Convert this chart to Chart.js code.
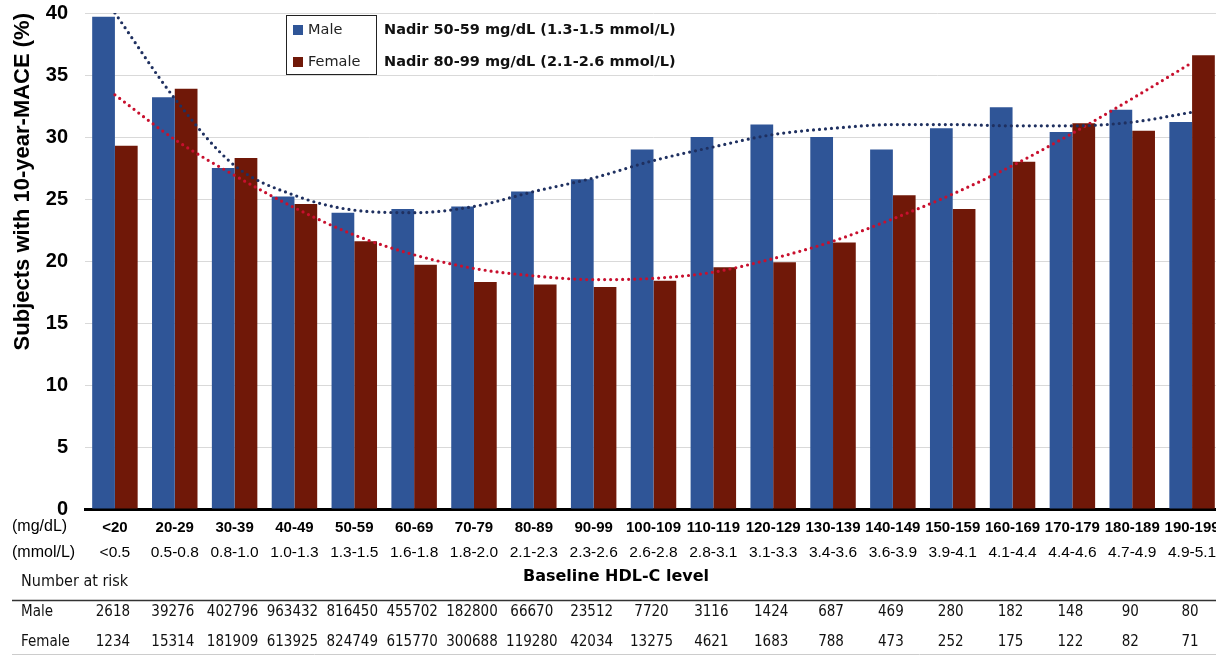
<!DOCTYPE html>
<html>
<head>
<meta charset="utf-8">
<script src="https://cdn.jsdelivr.net/npm/chart.js@4.4.1/dist/chart.umd.min.js"></script>
<style>
  html, body { margin: 0; padding: 0; background: #fff; overflow: hidden; }
  #wrap { width: 1222px; height: 655px; position: relative; }
</style>
</head>
<body>
<div id="wrap"><canvas id="chart"></canvas></div>
<script>
const mgLabels = ['<20', '20-29', '30-39', '40-49', '50-59', '60-69', '70-79', '80-89', '90-99', '100-109',
  '110-119', '120-129', '130-139', '140-149', '150-159', '160-169', '170-179', '180-189', '190-199'];
const mmolLabels = ['<0.5', '0.5-0.8', '0.8-1.0', '1.0-1.3', '1.3-1.5', '1.6-1.8', '1.8-2.0', '2.1-2.3', '2.3-2.6', '2.6-2.8',
  '2.8-3.1', '3.1-3.3', '3.4-3.6', '3.6-3.9', '3.9-4.1', '4.1-4.4', '4.4-4.6', '4.7-4.9', '4.9-5.1'];

const maleValues = [39.7, 33.2, 27.5, 25.2, 23.9, 24.2, 24.4, 25.6, 26.6, 29.0, 30.0, 31.0, 30.0, 29.0, 30.7, 32.4, 30.4, 32.2, 31.2];
const femaleValues = [29.3, 33.9, 28.3, 24.6, 21.6, 19.7, 18.3, 18.1, 17.9, 18.4, 19.5, 19.9, 21.5, 25.3, 24.2, 28.0, 31.1, 30.5, 36.6];

// trend lines at each category centre
const maleTrend = [40.0, 33.1, 27.7, 25.3, 24.1, 23.9, 24.4, 25.6, 26.7, 28.1, 29.2, 30.2, 30.7, 31.0, 31.0, 30.9, 30.9, 31.2, 32.0];
const femaleTrend = [33.4, 29.8, 26.9, 24.3, 22.1, 20.5, 19.4, 18.8, 18.5, 18.6, 19.1, 20.2, 21.6, 23.4, 25.4, 27.7, 30.3, 33.1, 36.0];

const maleAtRisk = [2618, 39276, 402796, 963432, 816450, 455702, 182800, 66670, 23512, 7720, 3116, 1424, 687, 469, 280, 182, 148, 90, 80];
const femaleAtRisk = [1234, 15314, 181909, 613925, 824749, 615770, 300688, 119280, 42034, 13275, 4621, 1683, 788, 473, 252, 175, 122, 82, 71];

const nadirNotes = ['Nadir 50-59 mg/dL (1.3-1.5 mmol/L)', 'Nadir 80-99 mg/dL (2.1-2.6 mmol/L)'];

const maleColor = '#2F5597';
const femaleColor = '#701808';
const maleTrendColor = '#1F3060';
const femaleTrendColor = '#C8102E';

const arial = "'Liberation Sans', Arial, sans-serif";
const tahoma = "'DejaVu Sans Condensed', 'DejaVu Sans', sans-serif";

const extras = {
  id: 'extras',
  afterDraw(chart) {
    const { ctx } = chart;
    const x = chart.scales.x;
    ctx.save();

    // legend box
    ctx.fillStyle = '#fff';
    ctx.fillRect(286.5, 15.5, 90, 59);
    ctx.strokeStyle = '#222';
    ctx.lineWidth = 1;
    ctx.strokeRect(286.5, 15.5, 90, 59);
    const rows = [30, 62];
    chart.data.datasets.filter(d => d.type !== 'line').forEach((d, i) => {
      ctx.fillStyle = d.backgroundColor;
      ctx.fillRect(293, rows[i] - 5, 10, 10);
      ctx.fillStyle = '#222';
      ctx.font = "14.5px 'DejaVu Sans', sans-serif";
      ctx.textBaseline = 'middle';
      ctx.textAlign = 'left';
      ctx.fillText(d.label, 308, rows[i]);
      ctx.font = "bold 14.5px 'DejaVu Sans', sans-serif";
      ctx.fillStyle = '#111';
      ctx.fillText(nadirNotes[i], 384, rows[i]);
    });

    // row headers for the two label rows
    ctx.fillStyle = '#000';
    ctx.font = '16px ' + arial;
    ctx.fillText('(mg/dL)', 12, 527);
    ctx.fillText('(mmol/L)', 12, 553);

    // axis title
    ctx.textAlign = 'center';
    ctx.font = "bold 16px 'DejaVu Sans', sans-serif";
    ctx.fillText('Baseline HDL-C level', 616, 577);

    // number at risk table
    ctx.textAlign = 'left';
    ctx.font = '16px ' + tahoma;
    ctx.fillStyle = '#111';
    ctx.fillText('Number at risk', 21, 582);
    ctx.strokeStyle = '#333';
    ctx.lineWidth = 1.3;
    ctx.beginPath();
    ctx.moveTo(12, 600.5);
    ctx.lineTo(1222, 600.5);
    ctx.stroke();
    ctx.strokeStyle = '#ccc';
    ctx.lineWidth = 1;
    ctx.beginPath();
    ctx.moveTo(12, 654.5);
    ctx.lineTo(1222, 654.5);
    ctx.stroke();

    ctx.font = '15px ' + tahoma;
    ctx.fillText('Male', 21, 612);
    ctx.fillText('Female', 21, 642);
    ctx.textAlign = 'center';
    maleAtRisk.forEach((v, i) => ctx.fillText(String(v), x.getPixelForValue(i) - 2, 612));
    femaleAtRisk.forEach((v, i) => ctx.fillText(String(v), x.getPixelForValue(i) - 2, 642));
    ctx.restore();
  }
};

const noEdgePadding = (scale) => {
  scale.paddingLeft = 0;
  scale.paddingRight = 0;
  scale.paddingTop = 0;
  scale.paddingBottom = 0;
};

new Chart(document.getElementById('chart'), {
  type: 'bar',
  data: {
    labels: mgLabels,
    datasets: [
      { type: 'line', label: 'Male trend', data: maleTrend, borderColor: maleTrendColor, borderWidth: 3.2,
        borderDash: [0, 6], borderCapStyle: 'round', pointRadius: 0, cubicInterpolationMode: 'monotone', fill: false, order: 0 },
      { type: 'line', label: 'Female trend', data: femaleTrend, borderColor: femaleTrendColor, borderWidth: 3.2,
        borderDash: [0, 6], borderCapStyle: 'round', pointRadius: 0, cubicInterpolationMode: 'monotone', fill: false, order: 0 },
      { label: 'Male', data: maleValues, backgroundColor: maleColor, order: 1 },
      { label: 'Female', data: femaleValues, backgroundColor: femaleColor, order: 1 }
    ]
  },
  options: {
    responsive: true,
    maintainAspectRatio: false,
    animation: false,
    layout: { padding: { left: 0, right: 0, top: 13, bottom: 86 } },
    datasets: { bar: { categoryPercentage: 0.76, barPercentage: 1.0 } },
    plugins: { legend: { display: false }, tooltip: { enabled: false } },
    scales: {
      y: {
        min: 0,
        max: 40,
        ticks: { stepSize: 5, padding: 17, color: '#000', font: { family: arial, size: 20, weight: 'bold' } },
        grid: { color: '#D9D9D9', lineWidth: 1, drawTicks: false },
        border: { display: false },
        title: { display: true, text: 'Subjects with 10-year-MACE (%)', align: 'end', color: '#000',
          padding: { top: 10, bottom: 0 }, font: { family: arial, size: 22, weight: 'bold' } },
        afterFit(scale) { scale.width = 85; noEdgePadding(scale); }
      },
      x: {
        offset: true,
        grid: { display: false, drawTicks: false },
        border: { display: true, color: '#000', width: 3 },
        ticks: { padding: 10, color: '#000', autoSkip: false, maxRotation: 0,
          font: { family: arial, size: 15, weight: 'bold' } },
        afterFit(scale) { scale.height = 30; noEdgePadding(scale); }
      },
      x2: {
        type: 'category',
        position: 'bottom',
        labels: mmolLabels,
        offset: true,
        grid: { display: false, drawTicks: false },
        border: { display: false },
        ticks: { padding: 4, color: '#000', autoSkip: false, maxRotation: 0,
          font: { family: arial, size: 15.5 } },
        afterFit(scale) { scale.height = 30; noEdgePadding(scale); }
      }
    }
  },
  plugins: [extras]
});
</script>
</body>
</html>
